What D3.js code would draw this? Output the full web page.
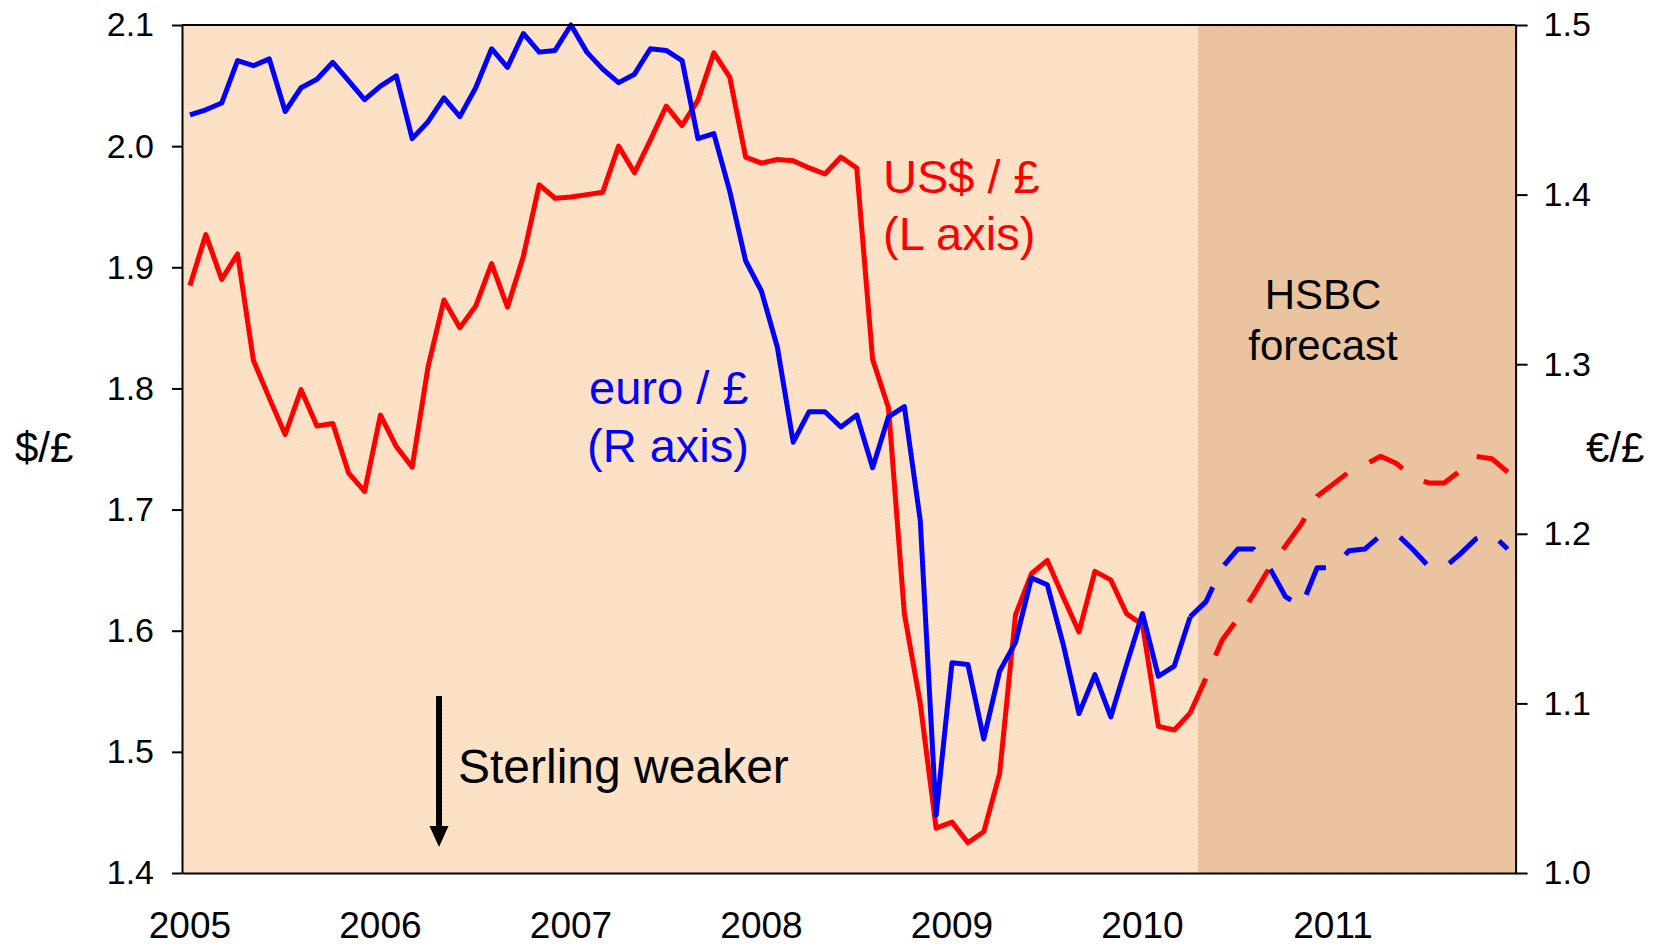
<!DOCTYPE html>
<html>
<head>
  <meta charset="utf-8">
  <script src="https://d3js.org/d3.v7.min.js"></script>
  <style>
  body {
    margin: 0;
    background: #fff;
  }
  text {
    font-family: "Liberation Sans", Arial, sans-serif;
  }
  .axis path, .axis line {
    stroke: #000;
    stroke-width: 2px;
  }
  .y.axis text {
    font-size: 34px;
    fill: #000;
  }
  .x.axis text {
    font-size: 37px;
    fill: #000;
  }
  .line {
    fill: none;
    stroke-width: 5px;
    stroke-linejoin: round;
  }
</style>
</head>
<body>
<script>

  // monthly categories, Jan 2005 .. Dec 2011
  var years = [2005, 2006, 2007, 2008, 2009, 2010, 2011];
  var months = [];
  years.forEach(y => {
    for (var m = 1; m <= 12; m++) months.push(y + "-" + (m < 10 ? "0" + m : m));
  });

  // US$ per £ (left axis)
  var usd = [
    1.885, 1.927, 1.890, 1.911, 1.823, 1.792, 1.762, 1.799, 1.769, 1.771, 1.730, 1.715,
    1.778, 1.752, 1.735, 1.818, 1.873, 1.850, 1.868, 1.903, 1.867, 1.909, 1.968, 1.957,
    1.958, 1.960, 1.962, 2.000, 1.978, 2.005, 2.033, 2.017, 2.038, 2.077, 2.057, 1.991,
    1.986, 1.989, 1.988, 1.982, 1.977, 1.991, 1.982, 1.824, 1.784, 1.614, 1.540, 1.437,
    1.442, 1.425, 1.434, 1.482, 1.613, 1.647, 1.658, 1.628, 1.599, 1.649, 1.642, 1.614,
    1.605, 1.521, 1.518, 1.532, 1.561, 1.592, 1.610, 1.630, 1.652, 1.670, 1.688, 1.711,
    1.721, 1.731, 1.737, 1.744, 1.738, 1.727, 1.722, 1.722, 1.732, 1.744, 1.742, 1.731
  ];

  // euro per £ (right axis)
  var eur = [
    1.447, 1.450, 1.454, 1.479, 1.476, 1.480, 1.449, 1.463, 1.468, 1.478, 1.467, 1.456,
    1.464, 1.470, 1.433, 1.443, 1.457, 1.446, 1.463, 1.486, 1.475, 1.495, 1.484, 1.485,
    1.500, 1.484, 1.474, 1.466, 1.471, 1.486, 1.485, 1.479, 1.433, 1.436, 1.402, 1.361,
    1.343, 1.310, 1.254, 1.272, 1.272, 1.263, 1.270, 1.239, 1.269, 1.275, 1.208, 1.034,
    1.124, 1.123, 1.079, 1.119, 1.136, 1.174, 1.170, 1.135, 1.094, 1.117, 1.092, 1.123,
    1.153, 1.116, 1.122, 1.151, 1.160, 1.180, 1.191, 1.191, 1.180, 1.163, 1.157, 1.180,
    1.180, 1.190, 1.191, 1.199, 1.200, 1.191, 1.181, 1.180, 1.188, 1.197, 1.200, 1.191
  ];

  var lastActual = "2010-04";      // solid up to here, dashed after
  var forecastFrom = "2010-05";    // shaded HSBC forecast period
  var leftTicks = [1.4, 1.5, 1.6, 1.7, 1.8, 1.9, 2.0, 2.1];
  var rightTicks = [1.0, 1.1, 1.2, 1.3, 1.4, 1.5];

  var margin = {top: 25, right: 141.4, bottom: 75, left: 182},
    width = 1657 - margin.left - margin.right,
    height = 948 - margin.top - margin.bottom;

  var root = d3.select("body").append("svg")
    .attr("width", 1657)
    .attr("height", 948);

  var defs = root.append("defs");
  var p1 = defs.append("pattern").attr("id", "peach")
    .attr("width", 4).attr("height", 4).attr("patternUnits", "userSpaceOnUse");
  p1.append("rect").attr("width", 4).attr("height", 4).attr("fill", "#ffe6cf");
  p1.append("rect").attr("width", 2).attr("height", 2).attr("fill", "#fcdcbd");
  p1.append("rect").attr("x", 2).attr("y", 2).attr("width", 2).attr("height", 2).attr("fill", "#fcdcbd");
  var p2 = defs.append("pattern").attr("id", "tan")
    .attr("width", 4).attr("height", 4).attr("patternUnits", "userSpaceOnUse");
  p2.append("rect").attr("width", 4).attr("height", 4).attr("fill", "#f3c396");
  p2.append("rect").attr("width", 2).attr("height", 2).attr("fill", "#e0c5ab");
  p2.append("rect").attr("x", 2).attr("y", 2).attr("width", 2).attr("height", 2).attr("fill", "#e0c5ab");

  var svg = root.append("g")
    .attr("transform", "translate(" + margin.left + "," + margin.top + ")");

  var x = d3.scaleBand().domain(months).range([0, width]).padding(0);
  var yL = d3.scaleLinear().domain([1.4, 2.1]).range([height, 0]);
  var yR = d3.scaleLinear().domain([1.0, 1.5]).range([height, 0]);
  var cx = d => x(d) + x.bandwidth() / 2;

  // plot background + forecast shading
  svg.append("rect")
    .attr("width", width).attr("height", height)
    .attr("fill", "url(#peach)");
  svg.append("rect")
    .attr("x", x(forecastFrom)).attr("width", width - x(forecastFrom))
    .attr("height", height)
    .attr("fill", "url(#tan)");

  var cut = months.indexOf(lastActual);
  var idx = d3.range(months.length);

  function drawSeries(vals, yScale, color) {
    var line = d3.line()
      .x(i => cx(months[i]))
      .y(i => yScale(vals[i]));
    svg.append("path")
      .attr("class", "line")
      .attr("stroke", color)
      .attr("d", line(idx.filter(i => i <= cut)));
    svg.append("path")
      .attr("class", "line")
      .attr("stroke", color)
      .attr("stroke-dasharray", "38,25")
      .attr("d", line(idx.filter(i => i >= cut)));
  }
  drawSeries(usd, yL, "#ff0000");
  drawSeries(eur, yR, "#0000ff");

  // frame top line
  svg.append("line")
    .attr("x1", 0).attr("x2", width).attr("y1", 0).attr("y2", 0)
    .attr("stroke", "#000").attr("stroke-width", 2);

  svg.append("g")
    .attr("class", "y axis")
    .call(d3.axisLeft(yL).tickValues(leftTicks).tickFormat(d3.format(".1f"))
      .tickSize(10).tickSizeOuter(0).tickPadding(18));

  svg.append("g")
    .attr("class", "y axis")
    .attr("transform", "translate(" + width + ",0)")
    .call(d3.axisRight(yR).tickValues(rightTicks).tickFormat(d3.format(".1f"))
      .tickSize(12).tickSizeOuter(0).tickPadding(16));

  svg.append("g")
    .attr("class", "x axis")
    .attr("transform", "translate(0," + height + ")")
    .call(d3.axisBottom(x)
      .tickValues(years.map(y => y + "-01"))
      .tickFormat(d => d.slice(0, 4))
      .tickSize(0).tickSizeOuter(0).tickPadding(39));

  // axis titles
  root.append("text").attr("x", 15).attr("y", 462)
    .style("font-size", "42px").text("$/£");
  root.append("text").attr("x", 1586).attr("y", 462)
    .style("font-size", "42px").text("€/£");

  // series labels
  var lab = root.append("g").style("font-size", "47px");
  lab.append("text").attr("x", 883).attr("y", 193).attr("fill", "#ff0000").text("US$ / £");
  lab.append("text").attr("x", 883).attr("y", 250).attr("fill", "#ff0000").text("(L axis)");
  lab.append("text").attr("x", 589).attr("y", 404).attr("fill", "#0000ff").text("euro / £");
  lab.append("text").attr("x", 587).attr("y", 462).attr("fill", "#0000ff").text("(R axis)");

  root.append("text").attr("x", 1323).attr("y", 309).attr("text-anchor", "middle")
    .style("font-size", "42px").text("HSBC");
  root.append("text").attr("x", 1323).attr("y", 360).attr("text-anchor", "middle")
    .style("font-size", "42px").text("forecast");

  // sterling weaker arrow
  root.append("line")
    .attr("x1", 439).attr("x2", 439).attr("y1", 696).attr("y2", 830)
    .attr("stroke", "#000").attr("stroke-width", 6);
  root.append("path")
    .attr("d", "M429.5,826 L448.5,826 L439,847 Z")
    .attr("fill", "#000");
  root.append("text").attr("x", 458).attr("y", 783)
    .style("font-size", "48px").text("Sterling weaker");

</script>
</body>
</html>
